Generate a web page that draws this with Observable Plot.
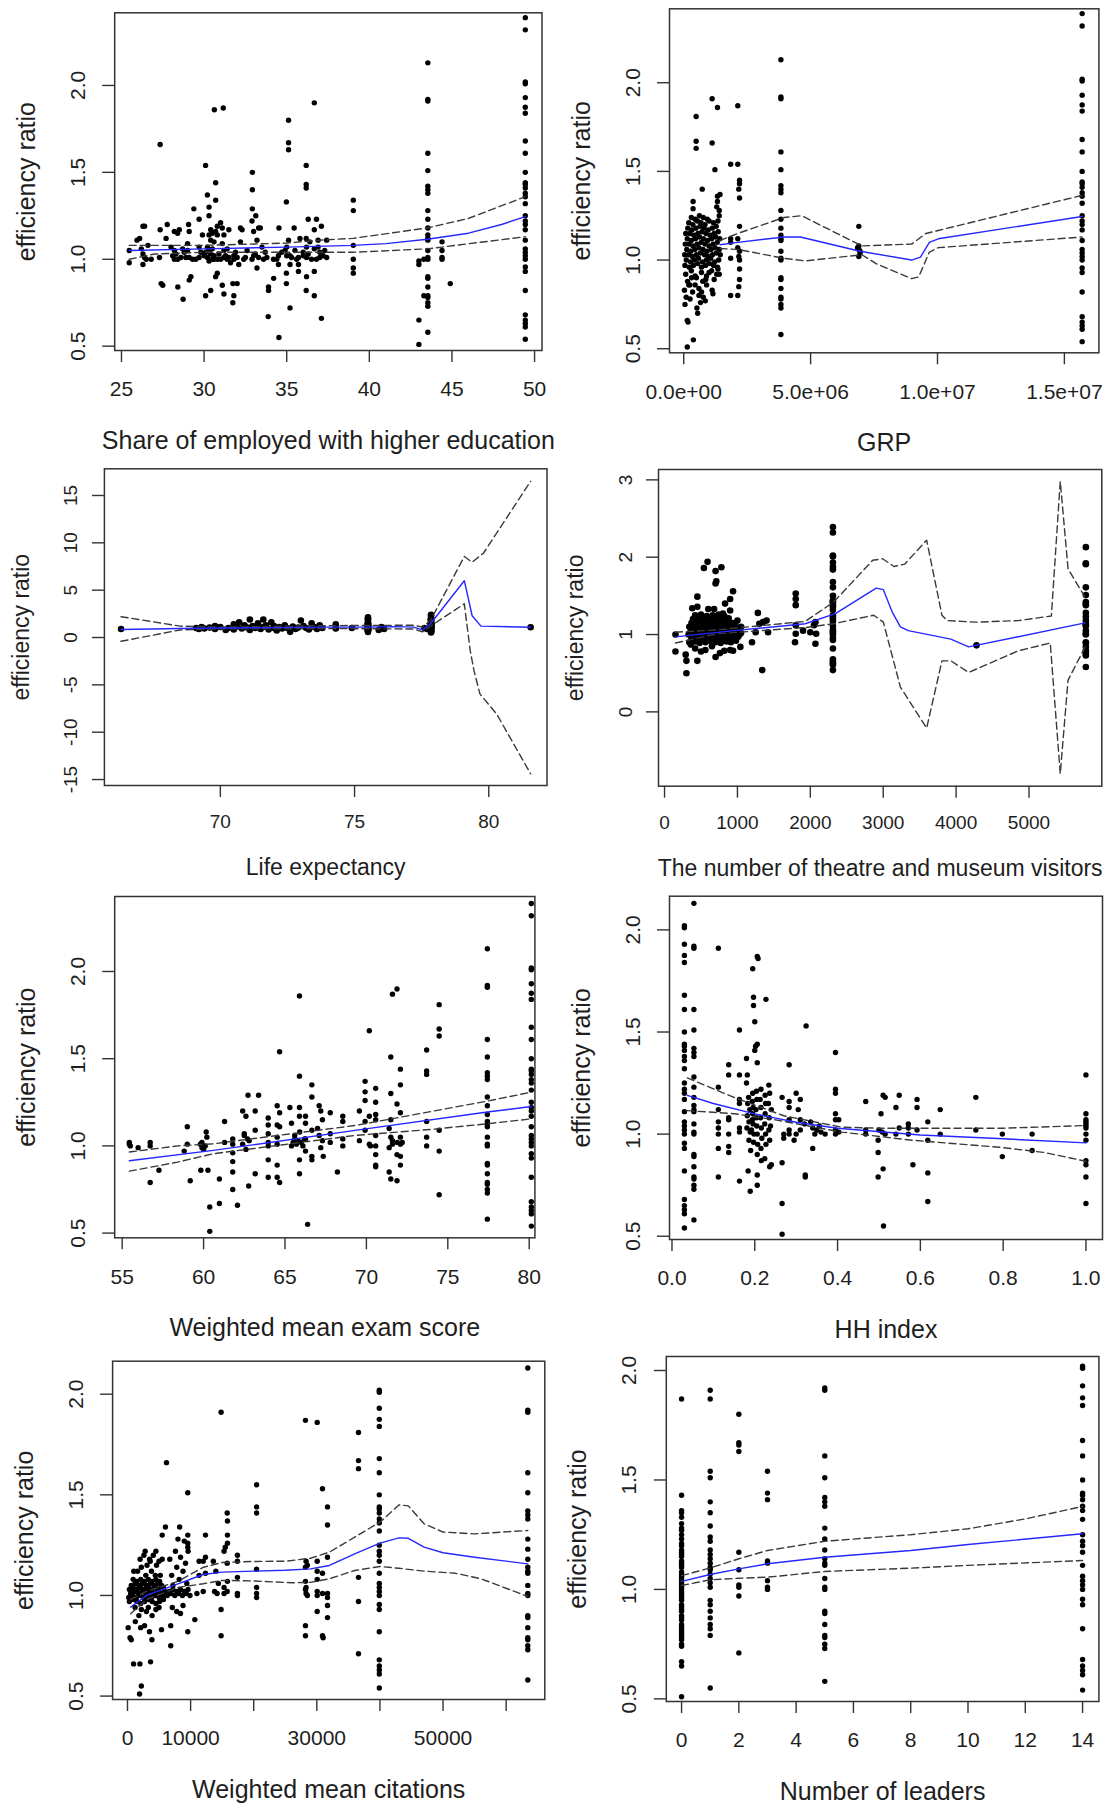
<!DOCTYPE html>
<html><head><meta charset="utf-8">
<script src="https://cdn.jsdelivr.net/npm/d3@7"></script>
<script src="https://cdn.jsdelivr.net/npm/@observablehq/plot@0.6"></script>
<style>
body{margin:0;background:#fff;}
#page{position:relative;width:1113px;height:1807px;background:#fff;overflow:hidden;}
#page svg{position:absolute;}
</style></head><body><div id="page"></div>
<script>
// ---------- shared columns (same regions appear in every panel) ----------
const mosTopY = [2.39, 2.32];
const mosY = [2.02, 2.01, 1.93, 1.875, 1.84, 1.68, 1.61, 1.50, 1.44, 1.43, 1.41, 1.38, 1.36, 1.32, 1.25, 1.22, 1.20, 1.17, 1.11, 1.06, 1.04, 1.02, 1.00, 0.955, 0.93, 0.82, 0.68, 0.65, 0.63, 0.61, 0.54];
const spbTopY = [2.13];
const spbY = [1.92, 1.91, 1.61, 1.51, 1.42, 1.40, 1.38, 1.28, 1.23, 1.18, 1.14, 1.12, 1.11, 1.05, 1.01, 1.00, 0.90, 0.89, 0.84, 0.79, 0.78, 0.75, 0.73, 0.58];
const yLabel = "efficiency ratio";
const stdYTicks = [0.5, 1.0, 1.5, 2.0];

// ---------- Panel 1: share of employed with higher education ----------
const eduOther = [[25.47,1.05],[25.47,0.98],[25.94,1.11],[26.3,1.19],[26.4,1.19],[26.2,1.06],[26.3,1.03],[26.4,1.01],[26.3,0.97],[26.5,1.0],[26.6,1.08],[26.8,1.0],[26.1,1.12],
[27.34,1.66],[27.34,1.17],[27.3,1.01],[27.5,0.85],[27.4,0.86],[27.77,1.20],[27.7,1.12],
[28.0,1.07],[28.2,1.16],[28.4,1.15],[28.5,1.17],[28.2,1.05],[28.3,1.03],[28.4,1.0],[28.6,1.01],[28.1,1.02],[28.7,1.06],[28.8,1.04],[28.41,0.84],[28.73,0.77],
[29.06,1.2],[29.1,1.16],[29.0,1.09],[29.1,1.01],[29.3,1.0],[29.2,0.90],[29.1,0.88],[29.38,1.29],[29.7,1.23],[29.7,1.07],[29.7,1.01],[29.9,1.14],[29.8,1.04],
[30.09,1.54],[30.09,0.79],[30.2,1.37],[30.3,1.30],[30.3,1.25],[30.4,1.17],[30.3,1.14],[30.4,1.11],[30.2,1.07],[30.3,1.05],[30.4,1.03],[30.2,1.01],[30.5,1.0],[30.3,0.99],[30.4,0.82],[30.5,1.15],[30.6,1.1],[30.5,1.06],[30.6,1.02],
[30.62,1.86],[30.7,1.44],[30.7,1.34],[30.8,1.19],[30.7,1.16],[30.8,1.14],[30.8,0.92],[30.7,0.90],[30.8,1.0],[30.9,1.03],
[31.16,1.87],[31.0,1.21],[31.1,1.18],[31.2,1.14],[31.1,1.09],[31.2,1.05],[31.3,1.02],[31.0,1.0],[31.4,1.0],[31.1,0.85],[31.2,0.80],[31.5,1.17],[31.5,1.01],[31.6,0.98],
[31.74,0.75],[31.74,0.86],[31.8,0.79],[31.8,1.0],[31.9,1.04],[32.0,0.86],[32.2,1.18],[32.3,1.17],[32.2,1.10],[32.0,1.01],[32.4,1.0],[32.1,0.97],
[32.92,1.50],[32.92,1.40],[32.92,1.29],[32.9,1.22],[33.0,1.16],[32.9,1.0],[33.13,1.25],[33.3,1.18],[33.4,1.18],[33.2,1.11],[33.5,1.07],[33.3,1.01],[33.2,0.95],[33.6,1.0],[33.1,1.03],
[33.88,0.67],[33.9,0.84],[33.9,0.82],[34.21,0.89],[34.2,1.0],[34.53,1.18],[34.5,1.02],[34.5,0.97],[34.53,0.55],[34.7,1.04],
[34.98,1.33],[34.98,0.92],[34.98,0.86],[35.0,1.07],[35.0,1.02],[35.11,1.80],[35.11,1.67],[35.11,1.63],[35.11,1.11],[35.2,1.02],[35.2,0.97],[35.2,0.72],
[35.45,1.18],[35.5,1.05],[35.6,1.0],[35.71,1.01],[35.71,0.97],[35.71,0.93],[35.8,1.12],
[36.18,1.54],[36.18,1.43],[36.18,1.41],[36.18,1.12],[36.2,1.07],[36.2,1.01],[36.2,0.90],[36.18,0.82],[36.3,1.23],[36.3,1.03],[36.4,1.1],
[36.67,1.90],[36.67,1.17],[36.67,1.06],[36.67,0.93],[36.67,0.79],[36.8,1.23],[36.9,1.11],[36.9,1.07],[37.0,1.04],[37.0,1.01],[36.8,1.0],[37.1,1.19],[37.1,0.66],[37.42,1.11],[37.42,1.01],
[39.03,1.34],[39.03,1.28],[39.03,1.08],[39.03,1.0],[39.03,0.95],[39.03,0.92],
[43.0,0.99],[43.0,0.97],[43.0,0.65],[43.0,0.51],[43.3,1.0],[43.3,0.79],[44.4,1.1],[44.4,1.05],[44.4,1.01],[44.4,1.0],[44.9,0.86],
[28.2,1.0],[28.9,1.01],[29.5,1.0],[30.0,1.02],[30.6,1.0],[31.2,1.01],[31.8,1.02],[32.5,1.01],[33.0,1.02],[33.8,1.01],[34.4,1.0],[35.3,1.01],[36.0,1.02],[36.5,1.0],[37.2,1.02],
[29.0,1.05],[30.1,1.04],[31.4,1.06],[32.6,1.05],[33.7,1.04],[34.9,1.05],[36.0,1.04],[37.3,1.05]];
const eduFit = [[25.47,1.05],[30,1.06],[35,1.07],[39,1.08],[41,1.09],[43.5,1.115],[46,1.15],[48,1.20],[49.44,1.245]];
const eduUpper = [[25.47,1.08],[30,1.08],[35,1.093],[37,1.11],[39,1.12],[43.5,1.18],[46,1.235],[49.44,1.36]];
const eduLower = [[25.47,1.0],[27,1.03],[30,1.04],[35,1.04],[39,1.04],[43.5,1.06],[44.4,1.07],[49.44,1.13]];

// ---------- Panel 2: GRP (x in millions) ----------
const grpOther = [[0.14,0.51],[0.14,0.66],[0.17,0.65],[0.38,0.55],[0.49,1.81],[0.49,1.67],[0.49,1.63],[0.73,1.40],[0.37,1.33],[0.37,1.29],[1.12,1.91],[1.12,1.66],[1.33,1.86],[1.23,1.51],[1.33,1.36],[1.33,1.33],[1.3,1.30],[1.43,1.37],[1.4,1.28],[1.4,1.25],[1.35,1.22],
[1.85,1.54],[1.85,0.80],[1.85,1.12],[1.85,1.01],[1.85,1.10],
[2.13,1.87],[2.13,1.54],[2.2,1.45],[2.2,1.43],[2.17,1.40],[2.2,1.35],[2.2,1.19],[2.2,1.05],[2.17,1.02],[2.2,1.0],[2.2,0.95],[2.2,0.89],[2.17,0.85],[2.13,0.80],[2.13,1.07],[2.13,1.12],
[0.52,0.73],[0.66,0.76],[0.77,0.79],[1.15,0.81],[1.12,0.83],[0.87,0.89],[1.3,0.92],[1.35,0.95],[0.03,0.83],[0.1,0.79],[0.24,0.86],[0.31,0.90],[0.2,0.86],[0.6,0.84],[0.7,0.82],[1.0,0.93],[1.4,0.92],[0.45,0.91],[0.9,0.86],
[6.9,1.19],[6.9,1.08],[6.9,1.06],[6.95,1.04],[6.9,1.02],[6.95,1.05],[6.85,1.07]];
// the solid blob of small regions (GRP below 1.45 million)
const grpBlob = [[0.05,0.97],[0.22,0.96],[0.38,0.97],[0.55,0.98],[0.7,0.96],[0.86,0.97],[1.02,0.98],[1.18,0.97],[1.33,0.96],
[0.1,1.0],[0.27,0.99],[0.42,1.0],[0.58,1.01],[0.74,0.99],[0.9,1.0],[1.06,1.01],[1.22,0.99],[1.38,1.0],
[0.04,1.03],[0.19,1.03],[0.34,1.02],[0.5,1.03],[0.66,1.04],[0.82,1.03],[0.97,1.02],[1.13,1.03],[1.29,1.04],[1.44,1.03],
[0.12,1.06],[0.28,1.05],[0.44,1.06],[0.6,1.07],[0.76,1.06],[0.92,1.05],[1.08,1.06],[1.24,1.07],[1.4,1.06],
[0.06,1.09],[0.21,1.09],[0.37,1.08],[0.53,1.09],[0.69,1.1],[0.84,1.09],[1.0,1.08],[1.16,1.09],[1.32,1.1],
[0.14,1.12],[0.3,1.11],[0.46,1.12],[0.62,1.13],[0.78,1.12],[0.94,1.11],[1.1,1.12],[1.26,1.13],[1.42,1.12],
[0.08,1.15],[0.24,1.15],[0.4,1.14],[0.56,1.15],[0.72,1.16],[0.88,1.15],[1.04,1.14],[1.2,1.15],[1.36,1.16],
[0.16,1.18],[0.32,1.17],[0.48,1.18],[0.64,1.19],[0.8,1.18],[0.96,1.17],[1.12,1.18],[1.28,1.19],
[0.2,1.21],[0.36,1.2],[0.54,1.22],[0.68,1.21],[0.84,1.2],[1.0,1.22],[1.17,1.21],
[0.3,1.24],[0.45,1.23],[0.62,1.25],[0.77,1.24],[0.93,1.23],
[0.08,0.92],[0.3,0.94],[0.5,0.9],[0.7,0.93],[0.9,0.91],[1.1,0.94],[0.15,0.88],[0.45,0.86],[0.75,0.88],[1.2,0.89],[0.35,0.82],[0.6,0.8],[0.05,0.75],[0.25,0.78],[0.55,0.7],[0.85,0.77]];
const grpFit = [[1.43,1.086],[2.13,1.10],[3.95,1.13],[4.6,1.13],[6.95,1.05],[8.98,1.0],[9.33,1.017],[9.68,1.10],[10.03,1.12],[15.7,1.246]];
const grpUpper = [[1.43,1.11],[2.13,1.15],[3.95,1.24],[4.65,1.25],[5.48,1.19],[7.02,1.08],[8.98,1.09],[9.54,1.15],[10.03,1.167],[15.7,1.365]];
const grpLower = [[1.43,1.065],[2.13,1.06],[3.95,1.01],[4.79,0.995],[7.02,1.03],[7.58,0.98],[8.98,0.895],[9.26,0.905],[9.68,1.045],[10.03,1.07],[15.7,1.13]];
const grpXTicks = [0, 5e6, 1e7, 1.5e7];
const grpXTickLabels = ["0.0e+00", "5.0e+06", "1.0e+07", "1.5e+07"];

// ---------- Panel 3: life expectancy ----------
const lifeOther = [[66.3,0.9],[81.56,1.09],
[69.1,1.0],[69.2,0.9],[69.3,1.1],[69.4,0.95],[69.6,1.05],[69.8,1.2],[69.8,0.9],[70.0,1.1],[70.2,0.8],[70.3,1.0],[70.5,1.4],[70.5,0.85],[70.6,1.15],[70.7,1.6],[70.8,0.95],[70.9,1.3],[71.0,1.05],[71.1,1.9],[71.1,0.8],[71.2,1.2],[71.3,1.0],[71.4,1.5],[71.5,0.9],[71.6,1.9],[71.6,1.1],[71.7,1.3],[71.8,0.85],[71.9,1.6],[72.0,1.0],[72.0,1.2],[72.1,0.75],[72.2,1.1],[72.3,0.95],[72.4,1.3],[72.5,1.0],[72.6,0.6],[72.7,1.15],[72.8,0.9],[72.9,1.05],[73.0,1.8],[73.1,1.2],[73.2,1.0],[73.3,0.85],[73.4,1.5],[73.5,1.1],[73.6,0.9],[73.7,1.3],[73.8,1.0],[74.3,1.4],[74.3,1.0],[74.3,0.95],[74.9,1.0],[75.9,0.8],[76.0,1.1],[76.1,0.9],[77.6,1.0],[77.7,0.9]];
const lifeFit = [[66.3,0.85],[68.5,0.95],[70,1.0],[72,1.05],[74,1.1],[75.5,1.1],[76.5,1.15],[77.2,1.1],[77.53,0.8],[77.83,1.45],[79.09,6.0],[79.38,2.3],[79.71,1.2],[81.56,1.09]];
const lifeUpper = [[66.3,2.2],[68.5,1.2],[70,1.1],[74,1.25],[77.2,1.3],[77.53,1.1],[77.83,1.8],[79.09,8.56],[79.38,7.96],[79.8,8.9],[81.56,16.5]];
const lifeLower = [[66.3,-0.4],[68.5,0.8],[70,0.9],[74,0.95],[77.2,0.9],[77.53,0.6],[77.83,1.2],[79.09,3.56],[79.31,-1.4],[79.45,-3.5],[79.67,-5.95],[80.3,-8.1],[81.56,-14.4]];

// ---------- Panel 4: theatre and museum visitors ----------
const visOther = [[150,1.0],[150,0.78],[300,0.5],[300,0.66],[290,0.74],[450,0.66],[450,1.49],[540,1.86],[590,1.94],[700,1.82],[780,1.87],[700,1.66],[710,1.69],[830,1.40],[900,1.46],[940,1.56],[900,1.31],[700,0.71],[900,0.8],[940,0.79],[1040,0.84],[1340,0.54],[1280,1.28],[1200,0.9],[1250,1.03],[1300,1.14],[1400,1.18],[1420,1.03],[1350,1.16],
[1800,1.53],[1800,1.46],[1800,1.38],[1800,1.12],[1800,1.01],[1790,0.9],[1900,1.05],[2000,1.03],[2070,1.16],[2070,0.88],[2080,1.01],[2050,1.12],[4280,0.86],
[360,0.87],[420,0.82],[500,0.78],[560,0.8],[650,0.85],[760,0.76],[820,0.79],[380,1.34],[450,1.36],[600,1.33],[680,1.33],[800,1.27],[1000,1.18],[1050,1.1],[1050,1.02],[980,1.05]];
const visBlob = [[340,0.90],[420,0.91],[480,0.89],[560,0.90],[620,0.92],[700,0.90],[770,0.89],[850,0.91],[910,0.90],[980,0.92],
[370,0.95],[440,0.96],[510,0.94],[580,0.95],[650,0.96],[720,0.95],[790,0.94],[860,0.96],[930,0.95],[1010,0.97],
[330,1.00],[400,1.01],[470,0.99],[540,1.00],[610,1.02],[680,1.00],[750,0.99],[820,1.01],[890,1.00],[960,1.02],[1030,1.00],
[360,1.05],[430,1.06],[500,1.04],[570,1.05],[640,1.06],[710,1.05],[780,1.04],[850,1.06],[920,1.05],[990,1.07],
[340,1.10],[410,1.11],[480,1.09],[550,1.10],[620,1.12],[690,1.10],[760,1.09],[830,1.11],[900,1.10],[970,1.12],
[370,1.15],[440,1.16],[510,1.14],[580,1.15],[650,1.16],[720,1.15],[790,1.14],[860,1.16],[930,1.15],
[390,1.20],[460,1.21],[530,1.19],[600,1.20],[670,1.22],[740,1.20],[810,1.19],[880,1.21],
[420,1.25],[500,1.26],[580,1.24],[660,1.25],[740,1.26],[820,1.24]];
const visFit = [[151,0.97],[955,1.05],[1930,1.14],[2344,1.27],[2904,1.60],[3002,1.58],[3124,1.29],[3236,1.10],[3343,1.05],[3928,0.94],[4172,0.84],[5770,1.15]];
const visUpper = [[151,1.03],[712,1.06],[1930,1.17],[2320,1.42],[2856,1.96],[2992,1.98],[3148,1.88],[3294,1.91],[3596,2.22],[3806,1.25],[3879,1.18],[4269,1.16],[4854,1.18],[5307,1.24],[5429,2.98],[5536,1.85],[5770,1.48]];
const visLower = [[151,0.89],[712,1.01],[1930,1.09],[2320,1.14],[2870,1.25],[3002,1.16],[3236,0.32],[3596,-0.21],[3806,0.66],[3928,0.66],[4172,0.51],[4854,0.79],[5292,0.89],[5429,-0.80],[5536,0.41],[5770,0.84]];

// ---------- Panel 5: weighted mean exam score ----------
const examOther = [[55.44,1.02],[55.44,1.01],[55.5,1.0],[55.98,0.99],[56.72,1.02],[56.72,1.0],[56.72,0.79],[57.26,0.86],[58.81,0.97],[59.0,1.11],[59.0,1.01],[59.18,0.80],
[59.8,1.01],[59.9,0.99],[60.0,0.98],[60.1,1.0],[59.9,1.02],[59.83,0.86],[60.16,1.08],[60.2,1.05],[60.27,0.86],[60.38,0.65],[60.38,0.51],[60.97,0.81],[60.97,0.67],[61.29,1.14],[61.29,1.02],
[61.79,1.04],[61.79,1.01],[61.79,0.96],[61.79,0.91],[61.79,0.85],[61.79,0.75],[62.08,0.66],[62.4,1.20],[62.6,1.17],[62.5,1.07],[62.7,1.04],[62.4,1.01],[62.6,0.98],[62.5,1.06],[62.8,1.03],[62.77,0.77],[62.73,1.29],
[63.17,1.20],[63.17,1.09],[63.17,0.84],[63.38,1.29],[63.97,1.16],[63.97,1.12],[63.97,1.07],[63.97,1.02],[63.97,1.0],[63.97,0.92],[63.97,0.82],
[64.52,1.23],[64.52,1.12],[64.52,1.05],[64.52,1.01],[64.52,0.89],[64.52,0.82],[64.67,1.54],[64.67,1.19],[64.67,1.11],[64.67,0.79],
[65.3,1.22],[65.4,1.13],[65.5,1.02],[65.6,1.04],[65.7,1.01],[65.8,1.03],[65.4,1.0],[65.6,1.06],[66.0,1.02],[66.1,1.0],[66.2,1.04],[65.9,1.08],
[65.89,1.86],[65.89,1.40],[65.89,1.22],[65.89,1.17],[65.89,0.92],[65.89,0.84],[66.26,1.17],[66.26,1.13],[66.26,1.04],[66.26,0.97],[66.39,0.55],
[66.65,1.35],[66.65,1.28],[66.65,1.09],[66.65,0.94],[66.65,0.92],[67.1,1.23],[67.2,1.20],[67.3,1.15],[67.0,1.10],[67.2,0.99],[67.35,0.94],[67.3,1.03],[67.1,1.06],
[67.78,1.19],[67.78,1.07],[67.78,1.02],[68.22,0.85],[68.55,1.17],[68.55,1.14],[68.55,1.04],[68.55,1.0],[69.57,1.20],[69.57,1.03],
[69.92,1.37],[69.92,1.31],[69.92,1.26],[69.92,1.14],[69.92,1.09],[70.18,1.66],[70.18,1.17],[70.18,1.01],[70.25,1.0],
[70.57,1.33],[70.57,1.25],[70.57,1.18],[70.57,1.15],[70.57,1.06],[70.57,1.0],[70.57,0.95],[70.57,0.89],[70.57,0.88],
[71.6,1.87],[71.5,1.51],[71.5,1.30],[71.5,1.15],[71.4,1.10],[71.5,1.05],[71.6,1.01],[71.4,0.99],[71.4,0.85],[71.5,0.81],[71.6,1.03],
[71.88,1.90],[71.88,1.24],[71.88,0.80],[71.88,0.95],[71.9,1.02],[72.09,1.44],[72.09,1.35],[72.09,1.19],[72.09,1.05],[72.09,1.01],[72.09,0.94],[72.09,0.89],[72.2,1.02],
[73.7,1.55],[73.7,1.43],[73.7,1.41],[73.7,1.14],[73.7,1.05],[73.7,1.0],[74.47,1.81],[74.47,1.67],[74.47,1.63],[74.47,1.09],[74.47,0.97],[74.47,0.72]];
const examFit = [[55.44,0.915],[60.6,0.974],[69.3,1.089],[77.43,1.194],[80.13,1.226]];
const examUpper = [[55.44,0.965],[58.4,1.0],[60.6,1.012],[69.3,1.117],[72.1,1.165],[77.43,1.257],[80.13,1.308]];
const examLower = [[55.44,0.855],[58.4,0.907],[60.6,0.955],[69.3,1.06],[73.9,1.094],[77.43,1.127],[80.13,1.155]];

// ---------- Panel 6: HH index ----------
const hhOther = [[0.112,1.91],[0.112,1.23],[0.112,1.12],[0.112,1.06],[0.112,1.03],[0.112,1.0],[0.112,0.93],[0.112,0.79],
[0.137,1.34],[0.137,1.29],[0.137,1.08],[0.137,1.07],[0.137,1.0],[0.137,0.94],[0.137,0.91],
[0.163,1.51],[0.163,1.29],[0.163,1.17],[0.163,1.15],[0.163,1.03],[0.163,1.01],[0.163,0.77],
[0.18,1.37],[0.182,1.29],[0.18,1.25],[0.184,0.82],[0.189,0.72],
[0.195,1.81],[0.197,1.67],[0.197,1.63],[0.2,1.55],[0.202,1.43],[0.2,1.41],[0.206,1.87],[0.208,1.86],[0.206,1.44],[0.206,1.35],[0.206,0.80],[0.206,0.75],
[0.227,1.66],[0.236,0.84],[0.24,0.85],[0.266,1.18],[0.266,0.86],[0.266,0.66],[0.266,0.51],[0.27,1.0],[0.27,0.98],
[0.283,1.34],[0.283,1.16],[0.283,1.13],[0.283,1.07],[0.283,1.02],[0.283,1.0],
[0.3,1.2],[0.31,1.17],[0.305,1.12],[0.31,1.07],[0.3,1.0],[0.295,0.97],[0.322,0.80],[0.322,0.79],[0.31,1.02],[0.32,1.05],[0.324,1.53],
[0.335,1.06],[0.34,1.03],[0.345,1.0],[0.35,1.02],[0.356,1.04],[0.36,1.01],[0.37,1.0],[0.34,0.93],
[0.395,1.40],[0.395,1.22],[0.395,1.2],[0.395,1.1],[0.395,1.07],[0.395,1.02],[0.395,1.0],[0.403,1.07],[0.403,1.01],
[0.468,1.16],[0.468,1.02],[0.468,1.0],[0.51,1.19],[0.515,1.18],[0.505,1.10],[0.5,1.02],[0.508,1.01],[0.515,1.0],[0.498,0.97],[0.498,0.91],[0.51,0.83],[0.498,0.79],[0.511,0.55],
[0.541,1.13],[0.541,1.0],[0.549,1.19],[0.549,1.03],[0.571,1.05],[0.571,1.03],[0.571,1.0],[0.582,0.85],[0.592,1.17],[0.592,1.13],[0.592,1.02],
[0.618,1.06],[0.618,0.97],[0.618,0.81],[0.618,0.67],[0.648,1.12],[0.648,1.0],[0.734,1.18],[0.734,1.02],[0.798,1.0],[0.798,0.89],[0.87,1.0],[0.87,0.92],
[1,1.29],[1,1.10],[1,1.07],[1,1.05],[1,1.03],[1,1.0],[1,0.97],[1,0.87],[1,0.85],[1,0.79],[1,0.66],[1,1.06],[1,1.04]];
const hhBlob = [[0.185,1.18],[0.183,1.15],[0.188,1.12],[0.182,1.09],[0.186,1.06],[0.181,1.03],[0.189,1.01],[0.186,0.97],[0.19,0.92],
[0.195,1.2],[0.195,1.1],[0.196,1.05],[0.194,1.16],[0.198,1.0],[0.197,0.96],[0.196,1.13],[0.192,1.02],[0.194,1.07],
[0.205,1.17],[0.204,1.08],[0.206,1.0],[0.203,1.12],[0.205,1.04],[0.207,0.95],[0.204,1.21],[0.206,0.9],
[0.215,1.22],[0.215,1.13],[0.216,1.03],[0.214,1.08],[0.217,0.98],[0.215,0.93],[0.213,1.17],[0.216,0.87],
[0.225,1.19],[0.225,1.1],[0.226,1.0],[0.224,1.05],[0.226,1.15],[0.227,0.95],[0.224,0.88],
[0.234,1.24],[0.233,1.15],[0.235,1.08],[0.236,1.2],[0.234,1.02],[0.236,0.97],[0.24,1.12],[0.238,1.04]];
const hhFit = [[0.037,1.19],[0.1,1.15],[0.2,1.099],[0.3,1.058],[0.4,1.029],[0.6,0.996],[0.8,0.977],[1.0,0.957]];
const hhUpper = [[0.037,1.275],[0.15,1.18],[0.27,1.09],[0.41,1.034],[0.5,1.029],[0.8,1.029],[1.0,1.042]];
const hhLower = [[0.037,1.115],[0.15,1.10],[0.25,1.07],[0.41,1.01],[0.58,0.97],[0.79,0.936],[0.9,0.91],[1.0,0.867]];
const hhXTicks = [0, 0.2, 0.4, 0.6, 0.8, 1.0];

// ---------- Panel 7: weighted mean citations ----------
const citOther = [[36600,1.81],[36600,1.67],[36600,1.63],[36600,1.09],[36600,0.97],[36600,0.71],
[28200,1.87],[28300,1.17],[28200,1.14],[28200,1.07],[28300,1.04],[28200,1.03],[28300,1.01],[28200,0.85],[28200,0.80],[28500,1.0],[28500,1.15],
[30060,1.86],[30060,1.17],[30060,1.12],[30060,1.08],[30060,1.02],[30060,1.0],[30060,0.92],[30900,1.53],[30900,1.11],[30900,1.01],[30900,0.80],[31000,0.79],
[31690,1.44],[31690,1.35],[31690,1.19],[31690,1.01],[31690,0.99],[31690,0.95],[31690,0.89],
[20450,1.55],[20450,1.44],[20450,1.41],[20450,1.13],[20450,1.04],[20450,1.01],[20450,0.99],[14830,1.91],[14830,0.93],[14830,0.80],
[15800,1.41],[15840,1.37],[15840,1.30],[15840,1.26],[15500,1.24],[15300,1.22],[15800,1.16],[15840,1.07],[15300,1.04],[15800,1.02],[15300,1.01],
[17420,1.20],[17420,1.17],[17420,1.09],[17420,1.01],[17420,1.0],[12360,1.30],[12360,1.19],[12000,1.17],[12360,1.11],[12000,1.02],
[13600,1.17],[14000,1.12],[14400,1.06],[13800,1.02],[14200,1.01],[9550,1.51],[9550,1.30],[9550,1.26],[9550,1.24],[9550,0.82],[10670,0.88],[11350,1.1],[11350,1.17],[11000,1.01],
[6180,1.66],[6010,1.34],[6850,0.75],[8260,1.34],
[6700,1.18],[7000,1.1],[7200,1.05],[7600,1.22],[7800,1.14],[8200,1.08],[8400,1.19],[8800,1.12],[9200,1.16],[9400,1.06],[7100,0.94],[7800,0.92],[8400,0.91],[8800,0.95],[9600,1.22],[8000,1.28],[9000,1.27],
[400,0.79],[960,0.66],[1960,0.66],[2190,0.55],[1910,0.51],[3650,0.67],[3870,0.78],[3480,0.82],[2080,0.84],[1240,0.87],[110,0.84],[5390,0.83],[6850,0.85],[600,0.78],[2700,0.85],
[1600,1.12],[2000,1.18],[2600,1.2],[2900,1.1],[3100,1.15],[3500,1.18],[3800,1.12],[3900,0.9],[4100,1.2],[4400,1.1],[4600,1.15],[5200,1.1],[5500,1.18],[2200,0.93],[3300,0.94],[4500,0.93],[5000,0.94],[3000,0.92],[1800,0.9],[1200,0.94],
[2800,1.22],[4500,1.22],[5500,1.3],[5000,1.17],[3600,1.17],[2200,1.14],[1000,1.12]];
// dense band of low-citation regions
const citBlob = [[300,0.97],[900,0.98],[1500,0.97],[2100,0.96],[2700,0.97],[3300,0.98],[3900,0.97],[4500,0.96],[5100,0.97],[5700,0.98],
[200,0.99],[800,1.0],[1400,0.99],[2000,1.0],[2600,0.99],[3200,1.0],[3800,0.99],[4400,1.0],[5000,0.99],[5600,1.0],
[500,1.01],[1100,1.02],[1700,1.01],[2300,1.02],[2900,1.01],[3500,1.02],[4100,1.01],[4700,1.02],[5300,1.01],[5900,1.02],
[300,1.03],[900,1.04],[1500,1.03],[2100,1.04],[2700,1.03],[3300,1.04],[3900,1.03],[4500,1.04],[5100,1.03],[5700,1.04],
[600,1.05],[1200,1.06],[1800,1.05],[2400,1.06],[3000,1.05],[3600,1.06],[4200,1.05],[4800,1.06],[5400,1.05],
[900,1.08],[1500,1.07],[2100,1.08],[2700,1.07],[3300,1.08],[3900,1.07],[4500,1.08],[5100,1.07],
[6300,1.0],[6900,1.01],[7500,1.0],[8100,1.01],[8700,1.0],[9300,1.01],[9900,1.0],[6600,1.02],[7200,1.03],[7800,1.02],[8400,1.03],[9000,1.02],[9600,1.03]];
const citFit = [[500,0.942],[3000,1.0],[8000,1.058],[12000,1.104],[15000,1.116],[20000,1.121],[25000,1.125],[29000,1.132],[32000,1.149],[36000,1.207],[40000,1.26],[43000,1.286],[44500,1.284],[47000,1.24],[50000,1.212],[55000,1.19],[63430,1.157]];
const citUpper = [[500,0.98],[3000,1.02],[8000,1.07],[12000,1.14],[15000,1.164],[20000,1.169],[25000,1.17],[29000,1.185],[32000,1.215],[36000,1.29],[40000,1.364],[43000,1.45],[44500,1.445],[47000,1.356],[50000,1.315],[55000,1.306],[63430,1.323]];
const citLower = [[500,0.909],[3000,0.98],[8000,1.04],[12000,1.058],[15000,1.075],[20000,1.072],[26000,1.063],[29000,1.065],[32000,1.083],[36000,1.124],[40000,1.144],[43000,1.135],[47000,1.121],[52000,1.11],[56000,1.083],[63430,0.995]];
const citXTicks = [0, 10000, 20000, 30000, 40000, 50000, 60000];
const citXTickLabels = ["0", "10000", "", "30000", "", "50000", ""];

// ---------- Panel 8: number of leaders ----------
const leaders0Y = [1.87,1.43,1.36,1.35,1.33,1.30,1.28,1.27,1.25,1.23,1.21,1.2,1.18,1.17,1.16,1.15,1.13,1.12,1.11,1.1,1.08,1.07,1.06,1.05,1.04,1.03,1.02,1.01,1.0,0.99,0.98,0.97,0.96,0.95,0.93,0.92,0.91,0.9,0.88,0.87,0.86,0.84,0.83,0.82,0.81,0.8,0.79,0.78,0.77,0.75,0.74,0.67,0.65,0.51];
const leaders1Y = [1.91,1.87,1.54,1.51,1.40,1.35,1.29,1.24,1.22,1.18,1.16,1.14,1.12,1.10,1.09,1.07,1.05,1.03,1.01,0.95,0.93,0.90,0.87,0.84,0.82,0.79,0.55];
const leaders2Y = [1.80,1.67,1.66,1.63,1.17,1.09,1.02,1.01,0.97,0.71];
const leaders3Y = [1.54,1.44,1.41,1.13,1.12,1.04,1.01,1.00];
const leadOther = [...leaders0Y.map(y => [0, y]), ...leaders1Y.map(y => [1, y]), ...leaders2Y.map(y => [2, y]), ...leaders3Y.map(y => [3, y])];
const leadFit = [[0,1.037],[1,1.068],[2,1.094],[3,1.117],[5,1.147],[8,1.178],[10,1.205],[14,1.254]];
const leadUpper = [[0,1.063],[1,1.098],[2,1.14],[3,1.178],[5,1.22],[8,1.25],[10,1.277],[12,1.322],[14,1.379]];
const leadLower = [[0,1.018],[1,1.044],[2,1.051],[3,1.056],[5,1.082],[8,1.097],[10,1.11],[14,1.132]];

// ---------- layout (pixel boxes of each panel) ----------
const panels = [
  {left:0, top:0, w:556, h:455, box:[114.2,12.3,541.5,350], xDomain:[24.59,50.45], yDomain:[0.475,2.418],
   xTicks:[25,30,35,40,45,50], yTicks:stdYTicks, xLabel:"Share of employed with higher education",
   others:eduOther, mosX:49.44, spbX:43.54, mosTop:true, spbTop:true, fit:eduFit, upper:eduUpper, lower:eduLower, unit:1},
  {left:556, top:0, w:557, h:455, box:[669,8.3,1098.4,352.3], xDomain:[-0.56e6,16.36e6], yDomain:[0.477,2.417],
   xTicks:grpXTicks, xTickLabels:grpXTickLabels, yTicks:stdYTicks, xLabel:"GRP",
   others:[...grpOther, ...grpBlob], mosX:15.7, spbX:3.83, mosTop:true, spbTop:true, fit:grpFit, upper:grpUpper, lower:grpLower, unit:1e6},
  {left:0, top:455, w:556, h:440, box:[103.9,468.3,546.5,785], xDomain:[65.68,82.17], yDomain:[-15.63,17.82],
   xTicks:[70,75,80], yTicks:[-15,-10,-5,0,5,10,15], xLabel:"Life expectancy", small:true,
   others:lifeOther, mosX:77.85, spbX:75.5, mosTop:true, spbTop:true, fit:lifeFit, upper:lifeUpper, lower:lifeLower, unit:1},
  {left:556, top:455, w:557, h:440, box:[658,469,1101.3,785.7], xDomain:[-83,5999], yDomain:[-0.961,3.134],
   xTicks:[0,1000,2000,3000,4000,5000], yTicks:[0,1,2,3], xLabel:"The number of theatre and museum visitors", small:true,
   others:[...visOther, ...visBlob], mosX:2310, spbX:5780, mosTop:true, spbTop:true, fit:visFit, upper:visUpper, lower:visLower, unit:1},
  {left:0, top:895, w:556, h:455, box:[114.2,896,534.4,1237.3], xDomain:[54.54,80.35], yDomain:[0.473,2.43],
   xTicks:[55,60,65,70,75,80], yTicks:stdYTicks, xLabel:"Weighted mean exam score",
   others:examOther, mosX:80.13, spbX:77.43, mosTop:true, spbTop:true, fit:examFit, upper:examUpper, lower:examLower, unit:1},
  {left:556, top:895, w:557, h:455, box:[669,895.7,1102,1239], xDomain:[-0.006,1.040], yDomain:[0.484,2.165],
   xTicks:hhXTicks, xFmt:d => d.toFixed(1), yTicks:stdYTicks, xLabel:"HH index",
   others:[...hhOther, ...hhBlob], mosX:0.030, spbX:0.053, mosTop:false, spbTop:true, fit:hhFit, upper:hhUpper, lower:hhLower, unit:1},
  {left:0, top:1350, w:556, h:457, box:[112.1,1360.7,544.3,1699], xDomain:[-2360,66124], yDomain:[0.483,2.164],
   xTicks:citXTicks, xTickLabels:citXTickLabels, yTicks:stdYTicks, xLabel:"Weighted mean citations",
   others:[...citOther, ...citBlob], mosX:39900, spbX:63430, mosTop:false, spbTop:true, fit:citFit, upper:citUpper, lower:citLower, unit:1},
  {left:556, top:1350, w:557, h:457, box:[665.8,1356,1098.4,1701], xDomain:[-0.533,14.57], yDomain:[0.488,2.064],
   xTicks:[0,2,4,6,8,10,12,14], yTicks:stdYTicks, xLabel:"Number of leaders",
   others:leadOther, mosX:14, spbX:5, mosTop:false, spbTop:false, fit:leadFit, upper:leadUpper, lower:leadLower, unit:1}
];

const page = document.getElementById("page");
const FONT = "'Liberation Sans', Arial, Helvetica, sans-serif";
const INK = "#1e1e1e";

for (const p of panels) {
  const pts = p.others.map(([x, y]) => ({x: x * p.unit, y}));
  for (const y of (p.mosTop ? [...mosTopY, ...mosY] : mosY)) pts.push({x: p.mosX * p.unit, y});
  for (const y of (p.spbTop ? [...spbTopY, ...spbY] : spbY)) pts.push({x: p.spbX * p.unit, y});
  const tickFont = p.small ? 19 : 21;
  const labFont = p.small ? 23 : 25;
  const xFormat = p.xTickLabels ? (d => p.xTickLabels[p.xTicks.indexOf(d)]) : (p.xFmt || (d => String(d)));
  const yFormat = p.small ? (d => String(d)) : (d => d.toFixed(1));
  const lineX = d => d[0] * p.unit;
  const lineY = d => d[1];
  const svg = Plot.plot({
    width: p.w, height: p.h,
    marginLeft: p.box[0] - p.left, marginTop: p.box[1] - p.top,
    marginRight: p.left + p.w - p.box[2], marginBottom: p.top + p.h - p.box[3],
    x: {domain: p.xDomain},
    y: {domain: p.yDomain},
    style: {fontFamily: FONT, fontSize: tickFont + "px", color: INK, background: "transparent", overflow: "visible"},
    marks: [
      Plot.dot(pts, {x: "x", y: "y", r: p.small ? 3.3 : 2.7, fill: "#000", stroke: null}),
      Plot.line(p.upper, {x: lineX, y: lineY, stroke: "#3a3a3a", strokeWidth: 1.4, strokeDasharray: "7,4"}),
      Plot.line(p.lower, {x: lineX, y: lineY, stroke: "#3a3a3a", strokeWidth: 1.4, strokeDasharray: "7,4"}),
      Plot.line(p.fit, {x: lineX, y: lineY, stroke: "#2626ff", strokeWidth: 1.4}),
      Plot.frame({stroke: "#333", strokeWidth: 1.5}),
      Plot.axisX({ticks: p.xTicks, tickFormat: xFormat, tickSize: 12, tickPadding: p.small ? 17 : 19,
                  fontSize: tickFont, label: null, stroke: "#333", strokeWidth: 1.4}),
      Plot.axisY({ticks: p.yTicks, tickFormat: yFormat, tickSize: 12, tickPadding: p.small ? 15 : 18, tickRotate: -90,
                  fontSize: tickFont, label: null, stroke: "#333", strokeWidth: 1.4}),
      Plot.text([p.xLabel], {text: d => d, frameAnchor: "bottom", lineAnchor: "bottom", textAnchor: "middle", dy: p.small ? 89.5 : 98.5, fontSize: labFont, fill: INK}),
      Plot.text([yLabel], {text: d => d, frameAnchor: "left", rotate: -90, textAnchor: "middle", lineAnchor: "middle", dx: p.small ? -83 : -88, fontSize: labFont, fill: INK})
    ]
  });
  svg.style.left = p.left + "px";
  svg.style.top = p.top + "px";
  page.appendChild(svg);
}
</script></body></html>
